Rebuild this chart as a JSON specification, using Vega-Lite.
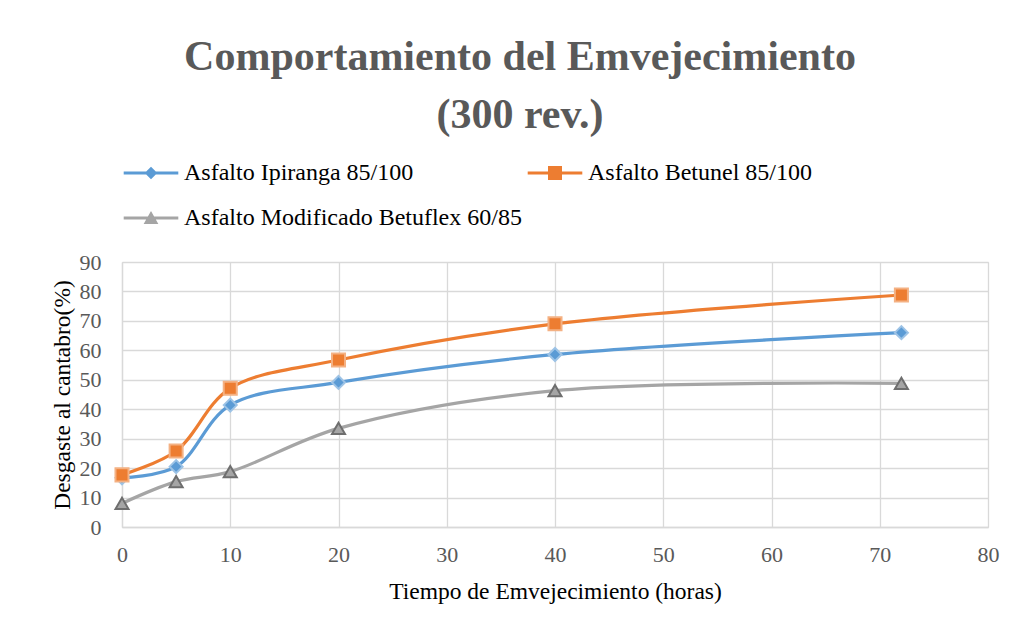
{
  "$schema": "https://vega.github.io/schema/vega-lite/v6.json",
  "width": 866,
  "height": 265,
  "autosize": "none",
  "padding": {"left": 122, "top": 262, "right": 27, "bottom": 103},
  "background": "white",
  "title": {
    "text": ["Comportamiento del Emvejecimiento", "(300 rev.)"],
    "font": "Liberation Serif",
    "fontSize": 42,
    "fontWeight": "bold",
    "color": "#595959",
    "anchor": "middle",
    "lineHeight": 58,
    "offset": 24,
    "dx": -35
  },
  "data": {
    "values": [
      {"series": "Asfalto Ipiranga 85/100", "t": 0, "d": 16.7},
      {"series": "Asfalto Ipiranga 85/100", "t": 5, "d": 20.5},
      {"series": "Asfalto Ipiranga 85/100", "t": 10, "d": 41.4},
      {"series": "Asfalto Ipiranga 85/100", "t": 20, "d": 49.1},
      {"series": "Asfalto Ipiranga 85/100", "t": 40, "d": 58.6},
      {"series": "Asfalto Ipiranga 85/100", "t": 72, "d": 66.0},
      {"series": "Asfalto Betunel 85/100", "t": 0, "d": 17.7},
      {"series": "Asfalto Betunel 85/100", "t": 5, "d": 25.8},
      {"series": "Asfalto Betunel 85/100", "t": 10, "d": 47.1},
      {"series": "Asfalto Betunel 85/100", "t": 20, "d": 56.7},
      {"series": "Asfalto Betunel 85/100", "t": 40, "d": 69.0},
      {"series": "Asfalto Betunel 85/100", "t": 72, "d": 78.8},
      {"series": "Asfalto Modificado Betuflex 60/85", "t": 0, "d": 8.0},
      {"series": "Asfalto Modificado Betuflex 60/85", "t": 5, "d": 15.4},
      {"series": "Asfalto Modificado Betuflex 60/85", "t": 10, "d": 18.8},
      {"series": "Asfalto Modificado Betuflex 60/85", "t": 20, "d": 33.5},
      {"series": "Asfalto Modificado Betuflex 60/85", "t": 40, "d": 46.3},
      {"series": "Asfalto Modificado Betuflex 60/85", "t": 72, "d": 48.8}
    ]
  },
  "encoding": {
    "x": {
      "field": "t",
      "type": "quantitative",
      "scale": {"domain": [0, 80], "nice": false},
      "axis": {
        "values": [0, 10, 20, 30, 40, 50, 60, 70, 80],
        "title": "Tiempo de Emvejecimiento (horas)",
        "labelFlush": false,
        "labelPadding": 17,
        "titlePadding": 14
      }
    },
    "y": {
      "field": "d",
      "type": "quantitative",
      "scale": {"domain": [0, 90], "nice": false},
      "axis": {
        "values": [0, 10, 20, 30, 40, 50, 60, 70, 80, 90],
        "title": "Desgaste al cantabro(%)",
        "labelFlush": false,
        "labelPadding": 21,
        "titlePadding": 5
      }
    }
  },
  "layer": [
    {
      "mark": {"type": "line", "interpolate": "catmull-rom", "strokeWidth": 3.2},
      "encoding": {
        "color": {
          "field": "series",
          "type": "nominal",
          "scale": {
            "domain": ["Asfalto Ipiranga 85/100", "Asfalto Betunel 85/100", "Asfalto Modificado Betuflex 60/85"],
            "range": ["#5B9BD5", "#ED7D31", "#A5A5A5"]
          },
          "legend": null
        }
      }
    },
    {
      "mark": {"type": "point", "filled": true, "size": 170, "strokeWidth": 2, "opacity": 1},
      "encoding": {
        "shape": {
          "field": "series",
          "type": "nominal",
          "scale": {
            "domain": ["Asfalto Ipiranga 85/100", "Asfalto Betunel 85/100", "Asfalto Modificado Betuflex 60/85"],
            "range": ["diamond", "square", "triangle-up"]
          },
          "legend": null
        },
        "fill": {
          "field": "series",
          "type": "nominal",
          "scale": {
            "domain": ["Asfalto Ipiranga 85/100", "Asfalto Betunel 85/100", "Asfalto Modificado Betuflex 60/85"],
            "range": ["#5B9BD5", "#ED7D31", "#A5A5A5"]
          },
          "legend": null
        },
        "stroke": {
          "field": "series",
          "type": "nominal",
          "scale": {
            "domain": ["Asfalto Ipiranga 85/100", "Asfalto Betunel 85/100", "Asfalto Modificado Betuflex 60/85"],
            "range": ["#9DC3E6", "#F4B183", "#6E6E6E"]
          },
          "legend": null
        }
      }
    },
    {
      "mark": {"type": "point", "filled": true, "opacity": 0, "size": 10},
      "encoding": {
        "shape": {
          "field": "series",
          "type": "nominal",
          "scale": {
            "domain": ["Asfalto Ipiranga 85/100", "Asfalto Modificado Betuflex 60/85", "Asfalto Betunel 85/100"],
            "range": [
              "M-3.9,-0.22H3.9V0.22H-3.9Z M0,-0.9L0.9,0L0,0.9L-0.9,0Z",
              "M-3.9,-0.22H3.9V0.22H-3.9Z M0,-1L1.05,0.85H-1.05Z",
              "M-3.9,-0.22H3.9V0.22H-3.9Z M-1,-1H1V1H-1Z"
            ]
          },
          "legend": {
            "title": null,
            "orient": "none",
            "legendX": 17,
            "legendY": -101,
            "columns": 2,
            "columnPadding": 5,
            "rowPadding": 21,
            "symbolSize": 196,
            "symbolOpacity": 1,
            "symbolStrokeWidth": 0,
            "labelOffset": 21,
            "labelFont": "Liberation Serif",
            "labelFontSize": 24,
            "labelColor": "#000000",
            "labelLimit": 500
          }
        },
        "fill": {
          "field": "series",
          "type": "nominal",
          "scale": {
            "domain": ["Asfalto Ipiranga 85/100", "Asfalto Modificado Betuflex 60/85", "Asfalto Betunel 85/100"],
            "range": ["#5B9BD5", "#A5A5A5", "#ED7D31"]
          },
          "legend": {
            "title": null,
            "orient": "none",
            "legendX": 17,
            "legendY": -101,
            "columns": 2,
            "columnPadding": 5,
            "rowPadding": 21,
            "symbolSize": 196,
            "symbolOpacity": 1,
            "symbolStrokeWidth": 0,
            "labelOffset": 21,
            "labelFont": "Liberation Serif",
            "labelFontSize": 24,
            "labelColor": "#000000",
            "labelLimit": 500
          }
        }
      }
    }
  ],
  "resolve": {"scale": {"shape": "independent", "fill": "independent"}},
  "config": {
    "font": "Liberation Serif",
    "view": {"stroke": "#D9D9D9"},
    "axis": {
      "grid": true,
      "gridColor": "#D9D9D9",
      "gridWidth": 1.3,
      "domainColor": "#D9D9D9",
      "domainWidth": 1.3,
      "ticks": false,
      "labelFont": "Liberation Serif",
      "labelFontSize": 22,
      "labelColor": "#595959",
      "titleFont": "Liberation Serif",
      "titleFontSize": 23.5,
      "titleFontWeight": "normal",
      "titleColor": "#000000"
    }
  }
}
